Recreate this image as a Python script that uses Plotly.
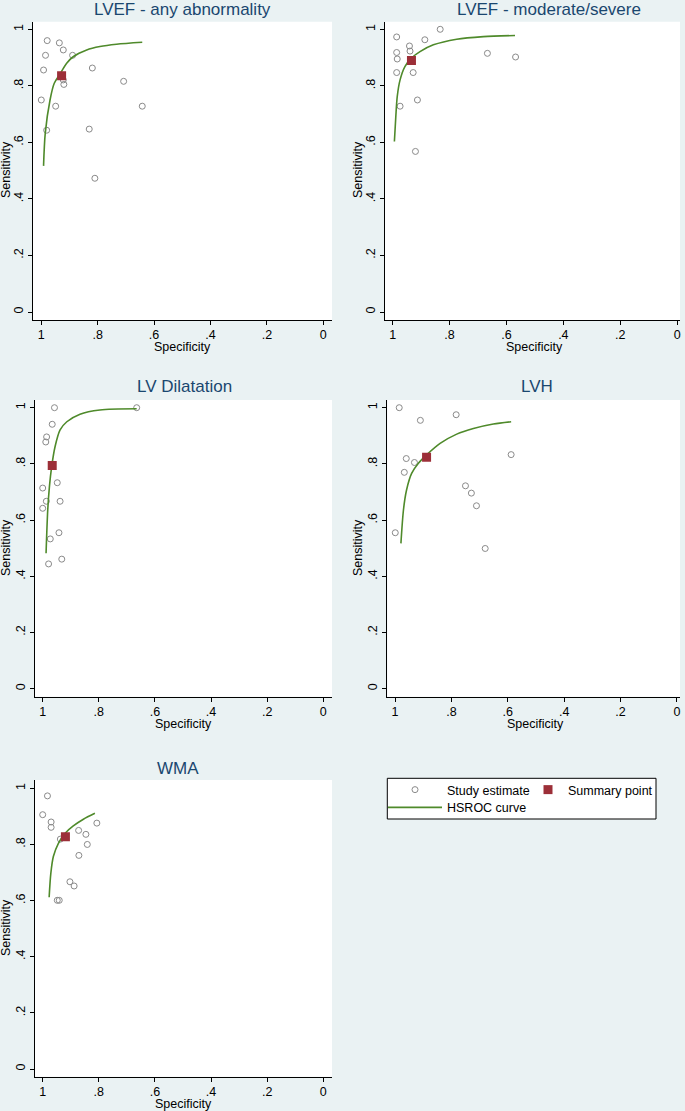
import plotly.graph_objects as go

W, H = 685, 1111

titles = ["LVEF - any abnormality", "LVEF - moderate/severe", "LV Dilatation", "LVH", "WMA"]

# ---- study estimates (specificity, sensitivity) ----
spec_lvef_any = [0.979, 0.936, 0.922, 0.985, 0.889, 0.992, 0.819, 0.922, 0.920, 0.708, 1.000, 0.949, 0.642, 0.981, 0.830, 0.810]
sens_lvef_any = [0.960, 0.952, 0.927, 0.908, 0.908, 0.856, 0.863, 0.821, 0.805, 0.816, 0.750, 0.728, 0.728, 0.643, 0.647, 0.473]

spec_lvef_mod = [0.833, 0.986, 0.941, 0.939, 0.887, 0.986, 0.984, 0.986, 0.928, 0.667, 0.568, 0.913, 0.974, 0.920]
sens_lvef_mod = [1.000, 0.973, 0.941, 0.923, 0.963, 0.918, 0.895, 0.847, 0.847, 0.915, 0.902, 0.750, 0.728, 0.568]

spec_lvdil = [0.958, 0.665, 0.966, 0.986, 0.989, 1.000, 0.948, 0.987, 0.938, 1.000, 0.942, 0.973, 0.932, 0.979]
sens_lvdil = [1.000, 1.000, 0.941, 0.896, 0.878, 0.714, 0.733, 0.667, 0.667, 0.642, 0.555, 0.533, 0.461, 0.444]

spec_lvh = [0.985, 0.783, 0.910, 0.588, 0.960, 0.931, 0.967, 0.750, 0.729, 0.711, 0.999, 0.680]
sens_lvh = [1.000, 0.975, 0.955, 0.833, 0.819, 0.805, 0.770, 0.722, 0.696, 0.651, 0.555, 0.499]

spec_wma = [0.983, 1.000, 0.970, 0.970, 0.807, 0.872, 0.846, 0.937, 0.841, 0.871, 0.903, 0.888, 0.948, 0.941]
sens_wma = [0.973, 0.906, 0.880, 0.861, 0.876, 0.850, 0.836, 0.819, 0.800, 0.761, 0.667, 0.652, 0.601, 0.601]

# ---- summary points ----
summ_spec = [0.928, 0.934, 0.966, 0.888, 0.919]
summ_sens = [0.836, 0.890, 0.794, 0.824, 0.827]

# ---- HSROC curves ----
curve_spec_lvef_any = [0.992, 0.986, 0.969, 0.954, 0.936, 0.910, 0.887, 0.839, 0.792, 0.733, 0.642]
curve_sens_lvef_any = [0.517, 0.632, 0.750, 0.809, 0.838, 0.880, 0.903, 0.927, 0.939, 0.947, 0.954]

curve_spec_lvef_mod = [0.994, 0.989, 0.984, 0.974, 0.957, 0.934, 0.904, 0.857, 0.775, 0.681, 0.570]
curve_sens_lvef_mod = [0.603, 0.691, 0.762, 0.821, 0.868, 0.898, 0.921, 0.945, 0.965, 0.974, 0.978]

curve_spec_lvdil = [0.988, 0.982, 0.976, 0.968, 0.956, 0.938, 0.914, 0.867, 0.796, 0.665]
curve_sens_lvdil = [0.482, 0.636, 0.719, 0.790, 0.861, 0.921, 0.950, 0.977, 0.992, 0.996]

curve_spec_lvh = [0.979, 0.970, 0.959, 0.941, 0.917, 0.888, 0.840, 0.781, 0.722, 0.651, 0.588]
curve_sens_lvh = [0.517, 0.636, 0.707, 0.766, 0.802, 0.832, 0.873, 0.906, 0.926, 0.942, 0.950]

curve_spec_wma = [0.977, 0.971, 0.962, 0.944, 0.920, 0.891, 0.855, 0.814]
curve_sens_wma = [0.612, 0.697, 0.757, 0.804, 0.840, 0.866, 0.890, 0.911]

x_ticks = [1, 0.8, 0.6, 0.4, 0.2, 0]
x_tick_labels = ["1", ".8", ".6", ".4", ".2", "0"]
y_ticks = [0, 0.2, 0.4, 0.6, 0.8, 1]
y_tick_labels = ["0", ".2", ".4", ".6", ".8", "1"]

study_spec = [spec_lvef_any, spec_lvef_mod, spec_lvdil, spec_lvh, spec_wma]
study_sens = [sens_lvef_any, sens_lvef_mod, sens_lvdil, sens_lvh, sens_wma]
curve_spec = [curve_spec_lvef_any, curve_spec_lvef_mod, curve_spec_lvdil, curve_spec_lvh, curve_spec_wma]
curve_sens = [curve_sens_lvef_any, curve_sens_lvef_mod, curve_sens_lvdil, curve_sens_lvh, curve_sens_wma]

# ---- layout geometry (pixels) ----
BG = "#EAF2F3"
NAVY = "#1A476F"
GREEN = "#4F8A2B"
MAROON = "#9C2F38"
GRAY = "#8A8A8A"
FONT = "Liberation Sans, Arial, sans-serif"

# plot boxes: (left, right, top, bottom) in px
boxes = [
    (33, 332, 21.7, 320),
    (385, 680, 21.7, 320),
    (35, 332, 400, 696.7),
    (387.3, 680, 400, 696.7),
    (35, 332, 780, 1076.7),
]
xranges = [[1.0294, -0.0309], [1.027, -0.01], [1.0274, -0.031], [1.0273, -0.011], [1.0274, -0.031]]
yranges = [[-0.0283, 1.0269], [-0.0283, 1.0269], [-0.0285, 1.0274], [-0.0285, 1.0274], [-0.0274, 1.0296]]
title_pos = [(183, 9.3), (549, 9.3), (184, 386.7), (536.7, 386.7), (177.5, 768)]
ylab_pos = [(6, 170), (358, 170), (6, 548), (358, 548), (6, 928)]


def px(x):
    return x / W


def py(y):
    return 1 - y / H


fig = go.Figure()
annotations = []
layout_axes = {}

for i in range(5):
    n = "" if i == 0 else str(i + 1)
    xa, ya = "x" + n, "y" + n
    l, r, t, b = boxes[i]
    first = i == 0
    fig.add_trace(go.Scatter(
        x=study_spec[i], y=study_sens[i], mode="markers", xaxis=xa, yaxis=ya,
        name="Study estimate", showlegend=first, legend="legend",
        marker=dict(symbol="circle-open", size=6, color=GRAY, line=dict(width=1, color=GRAY)),
        cliponaxis=False, hoverinfo="x+y"))
    fig.add_trace(go.Scatter(
        x=curve_spec[i], y=curve_sens[i], mode="lines", xaxis=xa, yaxis=ya,
        name="HSROC curve", showlegend=first, legend="legend3",
        line=dict(color=GREEN, width=1.6, shape="spline", smoothing=0.8)))
    fig.add_trace(go.Scatter(
        x=[summ_spec[i]], y=[summ_sens[i]], mode="markers", xaxis=xa, yaxis=ya,
        name="Summary point", showlegend=first, legend="legend2",
        marker=dict(symbol="square", size=9, color=MAROON)))

    common = dict(showgrid=False, zeroline=False, showline=True, linecolor="black", linewidth=1,
                  ticks="outside", ticklen=4, tickwidth=1, tickcolor="black", automargin=False,
                  tickfont=dict(family=FONT, size=12.5, color="black"), fixedrange=True)
    layout_axes["xaxis" + n] = dict(common, domain=[px(l), px(r)], range=xranges[i], anchor=ya,
                                    tickvals=x_ticks, ticktext=x_tick_labels, tickangle=0,
                                    ticklabelstandoff=-1)
    layout_axes["yaxis" + n] = dict(common, domain=[py(b), py(t)], range=yranges[i], anchor=xa,
                                    tickvals=y_ticks, ticktext=y_tick_labels, tickangle=-90)

    annotations.append(dict(text=titles[i], x=px(title_pos[i][0]), y=py(title_pos[i][1]),
                            xref="paper", yref="paper", showarrow=False, xanchor="center", yanchor="middle",
                            font=dict(family=FONT, size=17, color=NAVY)))
    annotations.append(dict(text="Specificity", x=px((boxes[i][0] + boxes[i][1]) / 2 + (2 if i % 2 else 0)),
                            y=py(b + 27.3), xref="paper", yref="paper", showarrow=False,
                            xanchor="center", yanchor="middle",
                            font=dict(family=FONT, size=12.5, color="black")))
    annotations.append(dict(text="Sensitivity", x=px(ylab_pos[i][0]), y=py(ylab_pos[i][1]),
                            xref="paper", yref="paper", showarrow=False, textangle=-90,
                            xanchor="center", yanchor="middle",
                            font=dict(family=FONT, size=12.5, color="black")))

# white plot backgrounds
shapes = []
for (l, r, t, b) in boxes:
    shapes.append(dict(type="rect", xref="paper", yref="paper", x0=px(l), x1=px(r), y0=py(b), y1=py(t),
                       fillcolor="white", line=dict(width=0), layer="below"))
# legend frame
shapes.append(dict(type="rect", xref="paper", yref="paper", x0=px(387.3), x1=px(656), y0=py(819), y1=py(778.3),
                   fillcolor="white", line=dict(width=1, color="black"), layer="below"))

leg_common = dict(xanchor="left", yanchor="top", orientation="v", bgcolor="rgba(0,0,0,0)",
                  borderwidth=0, font=dict(family=FONT, size=12.5, color="black"))

fig.update_layout(
    template="none",
    width=W, height=H, margin=dict(l=0, r=0, t=0, b=0, pad=0, autoexpand=False),
    paper_bgcolor=BG, plot_bgcolor="rgba(0,0,0,0)",
    font=dict(family=FONT, size=12.5, color="black"),
    annotations=annotations, shapes=shapes,
    legend=dict(leg_common, x=px(383), y=py(775), itemwidth=54),
    legend2=dict(leg_common, x=px(528), y=py(775), itemwidth=30),
    legend3=dict(leg_common, x=px(383), y=py(792.7), itemwidth=54),
    hovermode="closest",
    **layout_axes,
)

fig.write_html("out.html", config={"displayModeBar": False},
               post_script="document.body.style.margin='0px';document.body.style.overflow='hidden';")
